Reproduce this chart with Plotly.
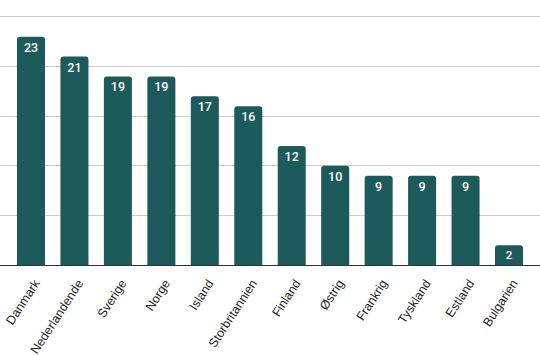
import plotly.graph_objects as go

countries = ["Danmark", "Nederlandende", "Sverige", "Norge", "Island", "Storbritannien",
             "Finland", "Østrig", "Frankrig", "Tyskland", "Estland", "Bulgarien"]
values = [23, 21, 19, 19, 17, 16, 12, 10, 9, 9, 9, 2]

fig = go.Figure(go.Bar(
    x=countries, y=values,
    marker=dict(color="#1c5a5b", line=dict(width=0)),
    text=[str(v) for v in values],
    textposition="inside", insidetextanchor="end",
    textangle=0,
    textfont=dict(family="Roboto", size=12.5, color="white", weight=500),
    width=0.645,
    cliponaxis=False,
))

fig.update_layout(
    width=540, height=355,
    margin=dict(l=0, r=0, t=7, b=90, autoexpand=False),
    paper_bgcolor="white", plot_bgcolor="white",
    barcornerradius=3,
    showlegend=False,
    xaxis=dict(range=[-0.713, 11.713], tickangle=-57, automargin=False,
               tickfont=dict(family="Liberation Sans", size=12.5, color="#222"),
               ticklabelstandoff=5, ticklabelshift=4,
               showline=True, linecolor="#333", linewidth=1,
               ticks="", showgrid=False, fixedrange=True),
    yaxis=dict(range=[0, 26], tickvals=[5, 10, 15, 20, 25], showticklabels=False,
               automargin=False,
               showgrid=True, gridcolor="#cccccc", gridwidth=1, zeroline=False,
               ticks="", fixedrange=True),
)

fig.write_html("out.html", config={"displayModeBar": False},
               post_script="document.body.style.margin='0';document.body.style.overflow='hidden';")
